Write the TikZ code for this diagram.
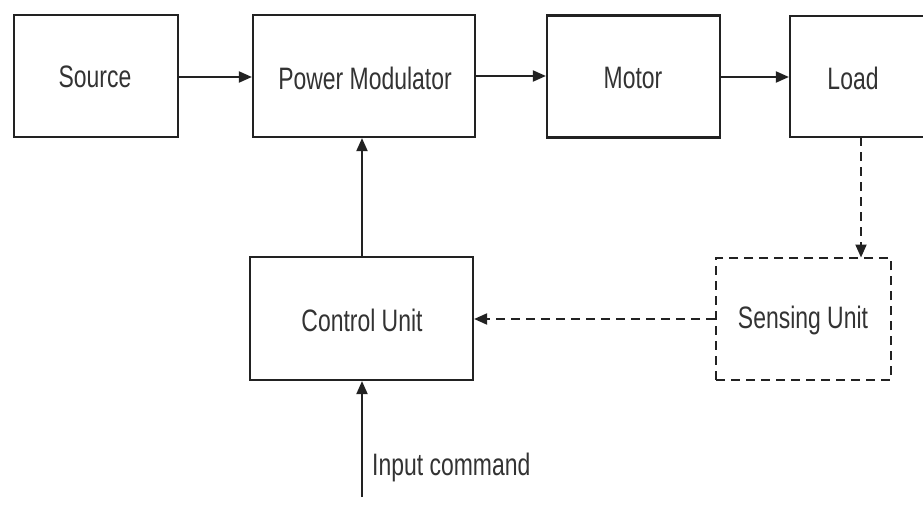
\documentclass[tikz,border=0pt]{standalone}
\usepackage{fontspec}
\setmainfont{Liberation Sans}
\newfontfamily\lab[FakeStretch=0.74]{Liberation Sans}
\usetikzlibrary{arrows.meta}
\definecolor{ink}{HTML}{222222}
\definecolor{txt}{HTML}{333333}
\begin{document}
\begin{tikzpicture}[x=1pt,y=-1pt,
  blk/.style={draw=ink,line width=2.2pt,fill=none},
  lbl/.style={font=\lab\fontsize{31}{35}\selectfont,text=txt,inner sep=0pt},
  conn/.style={draw=ink,line width=2pt,-{Triangle[length=13pt,width=11pt]}},
  dconn/.style={conn,dash pattern=on 9pt off 6pt}]
\useasboundingbox (0,0) rectangle (923,508);
\clip (0,0) rectangle (923,508);
\fill[white] (0,0) rectangle (923,508);
% boxes
\node[blk,minimum width=164pt,minimum height=122pt] (src) at (96,76) {};
\node[blk,minimum width=222pt,minimum height=122pt] (pm) at (364,76) {};
\node[blk,minimum width=173pt,minimum height=122pt] (mot) at (633.5,76.5) {};
\node[blk,minimum width=150pt,minimum height=121pt] (load) at (865,76.5) {};
\node[blk,minimum width=223pt,minimum height=123pt] (cu) at (361.5,318.5) {};
\node[blk,dash pattern=on 9pt off 6pt,minimum width=175pt,minimum height=122pt] (su) at (803.5,319) {};
% labels
\node[lbl] at (95,77) {Source};
\node[lbl] at (365,78) {Power Modulator};
\node[lbl] at (633,78) {Motor};
\node[lbl] at (853,78) {Load};
\node[lbl] at (362,320) {Control Unit};
\node[lbl] at (803,320) {Sensing Unit};
\coordinate (inp) at (362,497);
\node[lbl,anchor=west] (ic) at (372,467) {Input command};
% connectors
\draw[conn] (src.east |- 0,77) -- (pm.west |- 0,77);
\draw[conn] (pm.east |- 0,76) -- (mot.west |- 0,76);
\draw[conn] (mot.east |- 0,77) -- (load.west |- 0,77);
\draw[dconn] (861,137) coordinate (ld) -- (861,257.5);
\draw[dconn] (su.west |- 0,319) -- (cu.east |- 0,319);
\draw[conn] (362,257) -- (pm.south -| 362,0);
\draw[conn] (inp) -- (cu.south -| inp);
\end{tikzpicture}
\end{document}
